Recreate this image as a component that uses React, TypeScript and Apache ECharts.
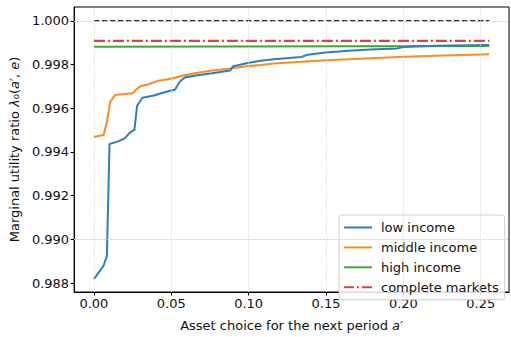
import React, { useEffect, useRef } from "react";
import * as echarts from "echarts";

const aLow = [0, 0.0063, 0.0084, 0.0101, 0.0157, 0.0199, 0.0231, 0.0251, 0.0262, 0.0279, 0.0314, 0.0388, 0.043, 0.0492, 0.0524, 0.0555, 0.0587, 0.066, 0.0764, 0.088, 0.09, 0.0995, 0.1078, 0.1162, 0.134, 0.1382, 0.1497, 0.1644, 0.179, 0.1958, 0.2, 0.221, 0.2555];
const lamLow = [0.98818, 0.9888, 0.98924, 0.99436, 0.99448, 0.99462, 0.99487, 0.99497, 0.995, 0.99611, 0.99648, 0.99658, 0.99667, 0.9968, 0.99684, 0.99721, 0.9974, 0.9975, 0.9976, 0.99772, 0.99792, 0.99807, 0.99817, 0.99824, 0.99834, 0.99845, 0.99855, 0.99863, 0.99869, 0.99873, 0.9988, 0.99886, 0.99889];

const aMid = [0, 0.0063, 0.0084, 0.0105, 0.0136, 0.0199, 0.0251, 0.0273, 0.0304, 0.0345, 0.0408, 0.0471, 0.0524, 0.0555, 0.066, 0.0764, 0.0869, 0.0995, 0.1078, 0.1162, 0.1497, 0.179, 0.2, 0.221, 0.2555];
const lamMid = [0.99468, 0.99477, 0.99538, 0.99629, 0.9966, 0.99665, 0.99668, 0.99685, 0.99702, 0.99707, 0.99724, 0.99731, 0.99739, 0.99746, 0.99761, 0.99772, 0.9978, 0.99793, 0.99798, 0.99804, 0.99819, 0.99829, 0.99835, 0.9984, 0.99847];

const aHigh = [0, 0.2555];
const lamHigh = [0.99881, 0.99885];

const aFlat = [0, 0.2555];
const lamComplete = [0.99908, 0.99908];
const lamOne = [1.0, 1.0];

const xTicks = [0, 0.05, 0.1, 0.15, 0.2, 0.25];
const yTicks = [0.988, 0.99, 0.992, 0.994, 0.996, 0.998, 1.0];

const seriesNames = ["low income", "middle income", "high income", "complete markets"];

const zip = (xs: number[], ys: number[]) => xs.map((x, i) => [x, ys[i]]);

const FONT = "'DejaVu Sans', sans-serif";
const SOLID_ICON = "path://M0,0h28v2h-28z";
const DASHDOT_ICON = "path://M0,0h10v2h-10zM13,0h2v2h-2zM18,0h10v2h-10z";

export default function App() {
  const ref = useRef<HTMLDivElement>(null);
  useEffect(() => {
    if (!ref.current) return;
    const chart = echarts.init(ref.current, null, { renderer: "svg" });
    const gridLine = { color: "#d4d4d4", width: 0.8, type: [1.5, 1.5] as any };
    const colors = ["#2f7fb8", "#ff8a1f", "#3aa83a", "#df3f40"];
    chart.setOption({
      animation: false,
      backgroundColor: "#fff",
      textStyle: { fontFamily: FONT },
      grid: { left: 68, right: 2, top: 7, bottom: 33, show: true, borderColor: "#000", borderWidth: 1, containLabel: false },
      legend: {
        data: seriesNames.map((n, i) => ({ name: n, icon: i === 3 ? DASHDOT_ICON : SOLID_ICON })),
        orient: "vertical",
        left: 339,
        top: 215,
        itemWidth: 28,
        itemHeight: 2,
        itemGap: 4.9,
        padding: [5, 6, 5, 5],
        borderColor: "#cfcfcf",
        borderWidth: 1,
        borderRadius: 3,
        backgroundColor: "rgba(255,255,255,0.85)",
        textStyle: { fontFamily: FONT, fontSize: 13, color: "#111", lineHeight: 15, padding: [0, 0, 0, 4] },
      },
      xAxis: {
        type: "value",
        min: -0.01278,
        max: 0.26828,
        name: "Asset choice for the next period {i|a′}",
        nameLocation: "middle",
        nameGap: 27,
        nameTextStyle: { fontFamily: FONT, fontSize: 13, color: "#111", rich: { i: { fontFamily: FONT, fontSize: 13, fontStyle: "italic", color: "#111" } } },
        axisLine: { show: true, onZero: false, lineStyle: { color: "#000", width: 1 } },
        axisTick: { show: true, length: 3.5, customValues: xTicks, lineStyle: { color: "#000" } },
        axisLabel: { customValues: xTicks, formatter: (v: number) => v.toFixed(2), fontFamily: FONT, fontSize: 13, color: "#111", margin: 5 },
        splitLine: { show: false },
      },
      yAxis: {
        type: "value",
        min: 0.98759,
        max: 1.00063,
        name: "Marginal utility ratio {i|λ}₀({i|a′}, {i|e})",
        nameLocation: "middle",
        nameGap: 50,
        nameTextStyle: { fontFamily: FONT, fontSize: 13, color: "#111", rich: { i: { fontFamily: FONT, fontSize: 13, fontStyle: "italic", color: "#111" } } },
        axisLine: { show: true, onZero: false, lineStyle: { color: "#000", width: 1 } },
        axisTick: { show: true, length: 3.5, customValues: yTicks, lineStyle: { color: "#000" } },
        axisLabel: { customValues: yTicks, formatter: (v: number) => v.toFixed(3), fontFamily: FONT, fontSize: 13, color: "#111", margin: 5 },
        splitLine: { show: false },
      },
      series: [
        {
          name: "grid",
          type: "line",
          data: [],
          z: 0,
          silent: true,
          markLine: {
            silent: true,
            symbol: "none",
            label: { show: false },
            lineStyle: gridLine,
            data: [...xTicks.map((v) => ({ xAxis: v })), ...yTicks.map((v) => ({ yAxis: v }))],
          },
        },
        {
          name: "unity",
          type: "line",
          data: zip(aFlat, lamOne),
          symbol: "none",
          lineStyle: { color: "#333", width: 1.5, type: [5.5, 2.5] },
          z: 3,
        },
        {
          name: seriesNames[0],
          type: "line",
          data: zip(aLow, lamLow),
          symbol: "none",
          color: colors[0],
          lineStyle: { color: colors[0], width: 2 },
          z: 4,
        },
        {
          name: seriesNames[1],
          type: "line",
          data: zip(aMid, lamMid),
          symbol: "none",
          color: colors[1],
          lineStyle: { color: colors[1], width: 2 },
          z: 3,
        },
        {
          name: seriesNames[2],
          type: "line",
          data: zip(aHigh, lamHigh),
          symbol: "none",
          color: colors[2],
          lineStyle: { color: colors[2], width: 2 },
          z: 3,
        },
        {
          name: seriesNames[3],
          type: "line",
          data: zip(aFlat, lamComplete),
          symbol: "none",
          color: colors[3],
          lineStyle: { color: colors[3], width: 2.2, type: [11, 3, 2, 3] },
          z: 3,
        },
      ],
    });
    return () => chart.dispose();
  }, []);
  return <div ref={ref} style={{ position: "fixed", left: 0, top: 0, width: 511, height: 337 }} />;
}
